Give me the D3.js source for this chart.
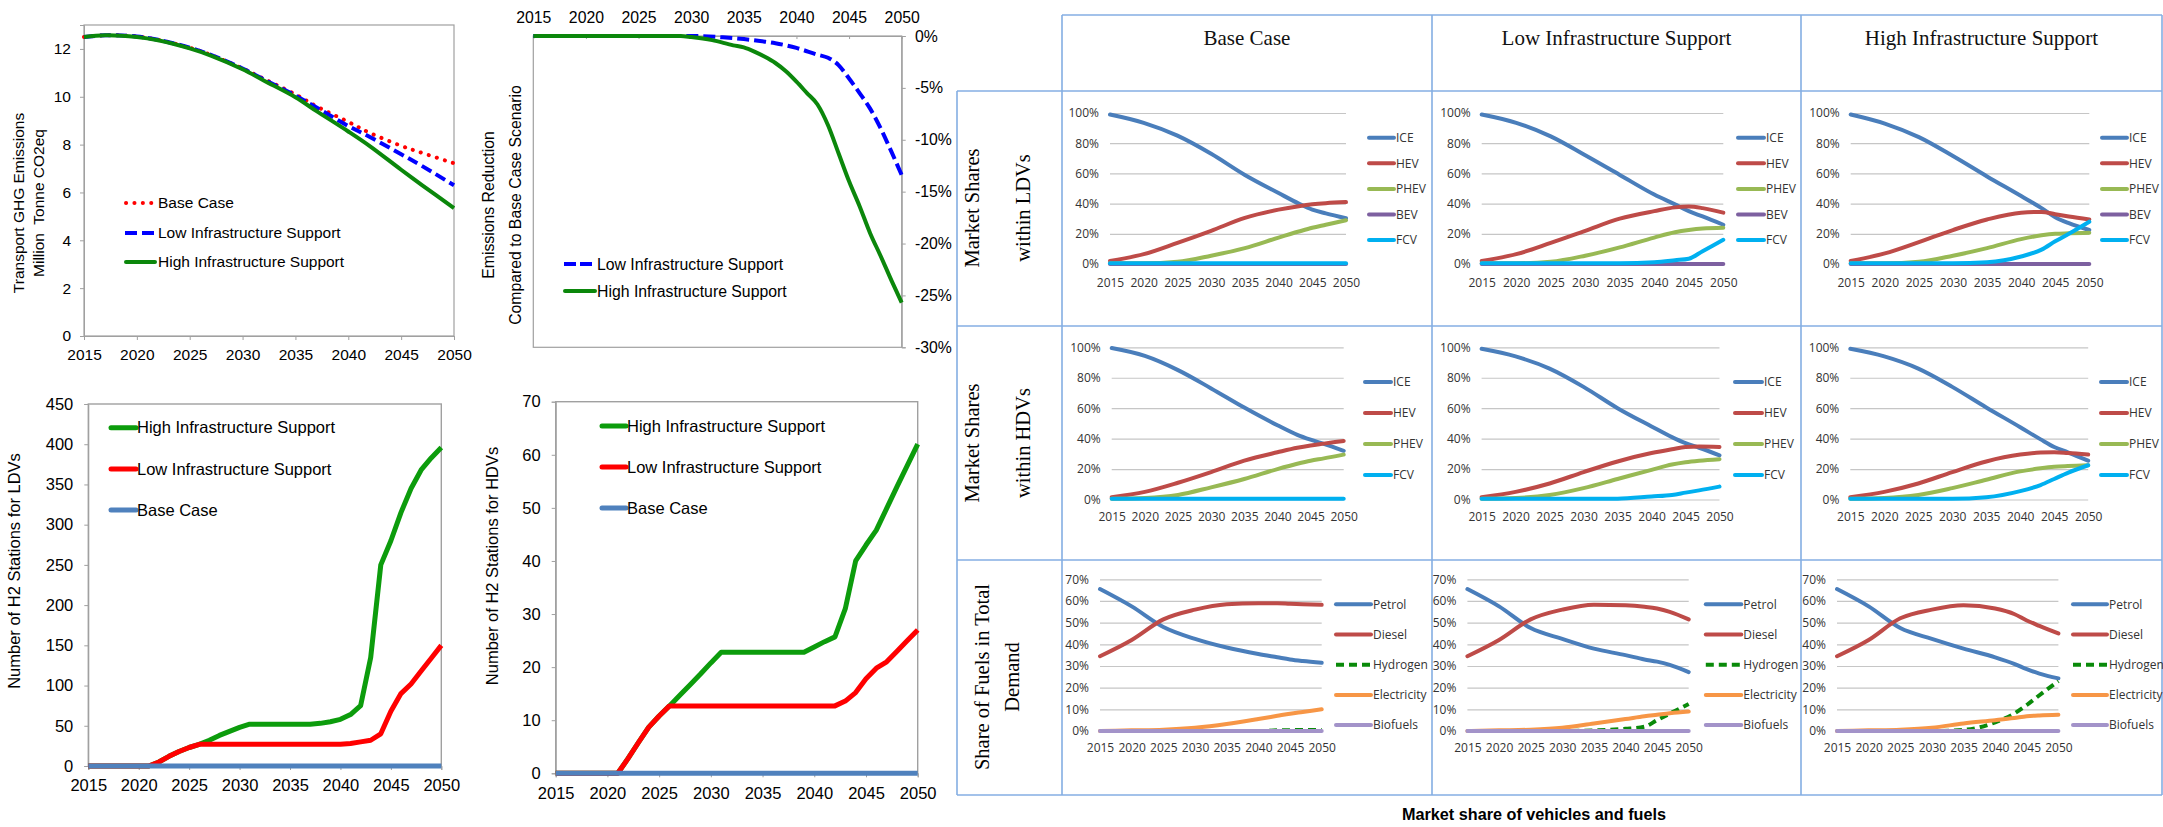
<!DOCTYPE html>
<html>
<head>
<meta charset="utf-8">
<script src="https://cdn.jsdelivr.net/npm/d3@7/dist/d3.min.js"></script>
<style>
  html, body { margin: 0; padding: 0; background: #fff; }
  svg { display: block; }
</style>
</head>
<body>
<svg id="fig" width="2163" height="827"></svg>
<script>
// ---------------- data ----------------
const yearTicks = [2015, 2020, 2025, 2030, 2035, 2040, 2045, 2050];

// Transport GHG emissions (million tonne CO2eq)
const ghgYears = [2015, 2017, 2020, 2022, 2025, 2027, 2030, 2032, 2035, 2037, 2040, 2042, 2045, 2047, 2050];
const ghgBase  = [12.5, 12.57, 12.52, 12.38, 12.05, 11.75, 11.18, 10.75, 10.1, 9.6, 8.95, 8.5, 7.95, 7.65, 7.22];
const ghgLow   = [12.5, 12.57, 12.52, 12.38, 12.05, 11.75, 11.18, 10.73, 10.05, 9.55, 8.78, 8.33, 7.6, 7.1, 6.3];
const ghgHigh  = [12.5, 12.57, 12.5, 12.36, 12.02, 11.72, 11.15, 10.68, 9.98, 9.4, 8.55, 7.95, 6.95, 6.3, 5.35];
const ghgTicks = [0, 2, 4, 6, 8, 10, 12];

// Emission reduction compared to base case (%)
const redLowYears  = [2015, 2030, 2033, 2035, 2037, 2038, 2040, 2042, 2043, 2044, 2045, 2046, 2047, 2048, 2049, 2050];
const redLow       = [0, 0, -0.13, -0.3, -0.55, -0.7, -1.15, -1.8, -2.1, -2.8, -4.1, -5.5, -7.0, -8.9, -11.1, -13.4];
const redHighYears = [2015, 2029, 2030, 2032, 2034, 2035, 2036, 2037, 2038, 2039, 2040, 2041, 2042, 2043, 2044, 2045, 2046, 2047, 2048, 2049, 2050];
const redHigh      = [0, 0, -0.1, -0.4, -0.9, -1.1, -1.5, -2.0, -2.6, -3.4, -4.4, -5.5, -6.6, -8.6, -11.3, -14.0, -16.4, -19.0, -21.2, -23.5, -25.7];
const redTicks = [0, -5, -10, -15, -20, -25, -30];

// Number of H2 stations
const stationYears = [2015, 2016, 2017, 2018, 2019, 2020, 2021, 2022, 2023, 2024, 2025, 2026, 2027, 2028,
  2029, 2030, 2031, 2032, 2033, 2034, 2035, 2036, 2037, 2038, 2039, 2040, 2041, 2042, 2043, 2044, 2045,
  2046, 2047, 2048, 2049, 2050];
const ldvStationsHigh = [0, 0, 0, 0, 0, 0, 0, 5, 12, 18, 23, 27, 32, 38, 43, 48, 52, 52, 52, 52, 52, 52, 52,
  53, 55, 58, 64, 75, 135, 250, 280, 315, 345, 368, 383, 396];
const ldvStationsLow  = [0, 0, 0, 0, 0, 0, 0, 5, 12, 18, 23, 27, 27, 27, 27, 27, 27, 27, 27, 27, 27, 27, 27,
  27, 27, 27, 28, 30, 32, 40, 68, 90, 102, 118, 134, 150];
const ldvStationsBase = [0, 0, 0, 0, 0, 0, 0, 0, 0, 0, 0, 0, 0, 0, 0, 0, 0, 0, 0, 0, 0, 0, 0, 0, 0, 0, 0, 0,
  0, 0, 0, 0, 0, 0, 0, 0];
const hdvStationsHigh = [0, 0, 0, 0, 0, 0, 0, 2.8, 5.8, 8.7, 10.8, 12.7, 14.7, 16.7, 18.7, 20.8, 22.8, 22.8,
  22.8, 22.8, 22.8, 22.8, 22.8, 22.8, 22.8, 23.8, 24.8, 25.7, 31, 40, 43, 45.8, 49.9, 54, 58, 62];
const hdvStationsLow  = [0, 0, 0, 0, 0, 0, 0, 2.8, 5.8, 8.7, 10.8, 12.7, 12.7, 12.7, 12.7, 12.7, 12.7, 12.7,
  12.7, 12.7, 12.7, 12.7, 12.7, 12.7, 12.7, 12.7, 12.7, 12.7, 13.6, 15.2, 17.8, 19.8, 21, 23, 25, 27];
const hdvStationsBase = [0, 0, 0, 0, 0, 0, 0, 0, 0, 0, 0, 0, 0, 0, 0, 0, 0, 0, 0, 0, 0, 0, 0, 0, 0, 0, 0, 0,
  0, 0, 0, 0, 0, 0, 0, 0];
const ldvStationTicks = [0, 50, 100, 150, 200, 250, 300, 350, 400, 450];
const hdvStationTicks = [0, 10, 20, 30, 40, 50, 60, 70];

// Market shares (%), sampled years
const shareYears = [2015, 2020, 2025, 2030, 2035, 2040, 2043, 2045, 2047, 2050];
const scenarios = ["Base Case", "Low Infrastructure Support", "High Infrastructure Support"];
const ldvSeries = ["ICE", "HEV", "PHEV", "BEV", "FCV"];
const hdvSeries = ["ICE", "HEV", "PHEV", "FCV"];
const fuelSeries = ["Petrol", "Diesel", "Hydrogen", "Electricity", "Biofuels"];

const ldvBaseICE  = [99, 93.5, 85, 73, 59, 47, 40, 36, 33.5, 30.3];
const ldvBaseHEV  = [2, 6.5, 14, 22, 30.5, 36, 38.3, 39.5, 40.3, 41];
const ldvBasePHEV = [0.5, 0.5, 1.5, 5.5, 10.5, 17.5, 21.5, 24, 26, 29];
const ldvBaseBEV  = [0, 0, 0, 0, 0, 0, 0, 0, 0, 0];
const ldvBaseFCV  = [0.5, 0.5, 0.5, 0.5, 0.5, 0.5, 0.5, 0.5, 0.5, 0.5];

const ldvLowICE  = [99, 93.5, 84.5, 72, 59, 46, 39.5, 35, 31.5, 26];
const ldvLowHEV  = [2, 6.5, 14, 22, 30, 35, 37.5, 38, 37, 34];
const ldvLowPHEV = [0.5, 0.5, 1.5, 5.5, 11, 17.5, 21, 22.5, 23.5, 24];
const ldvLowBEV  = [0, 0, 0, 0, 0, 0, 0, 0, 0, 0];
const ldvLowFCV  = [0.5, 0.5, 0.5, 0.5, 0.5, 1.2, 2.5, 3.5, 8.5, 16];

const ldvHighICE  = [99, 93, 84, 71.5, 58, 45, 37, 31, 27, 22.5];
const ldvHighHEV  = [2, 7, 14.5, 22.5, 29.5, 34, 34.5, 33, 31.5, 29.5];
const ldvHighPHEV = [0.5, 0.5, 1.5, 5.5, 10.5, 16.5, 19, 20, 20.3, 20.7];
const ldvHighBEV  = [0, 0, 0, 0, 0, 0, 0, 0, 0, 0];
const ldvHighFCV  = [0.5, 0.5, 0.5, 0.5, 1.2, 5, 9.5, 15, 20, 28];

const hdvBaseICE  = [99.5, 94.3, 85, 73, 60.4, 48.8, 42.5, 39.3, 36.5, 32];
const hdvBaseHEV  = [1.5, 5, 11, 18, 25.5, 31, 34, 35.5, 36.7, 38.5];
const hdvBasePHEV = [0.5, 1, 3, 8, 13.5, 20, 23.5, 25.5, 27, 29.5];
const hdvBaseFCV  = [0.5, 0.5, 0.5, 0.5, 0.5, 0.5, 0.5, 0.5, 0.5, 0.5];

const hdvLowICE  = [99, 94, 86, 74, 60, 48, 41, 37, 34, 29];
const hdvLowHEV  = [1.5, 5, 10.5, 18, 25, 30.5, 33, 34.5, 34.8, 34.5];
const hdvLowPHEV = [0.5, 1, 3, 7.5, 13.5, 19.5, 23, 24.5, 25.5, 26.5];
const hdvLowFCV  = [0.5, 0.5, 0.5, 0.5, 0.5, 2, 3, 4.5, 6, 8.5];

const hdvHighICE  = [99, 94, 86, 74, 60.5, 47.5, 39.5, 34.5, 31, 25.5];
const hdvHighHEV  = [1.5, 5, 10.5, 18, 25, 29.5, 30.8, 31, 30.5, 29.5];
const hdvHighPHEV = [0.5, 1, 3, 7.5, 13, 18.5, 20.5, 21.5, 22, 22.5];
const hdvHighFCV  = [0.5, 0.5, 0.5, 0.5, 1.5, 5.5, 9.5, 13.5, 17.5, 22.5];

const fuelBasePetrol      = [65.5, 57.5, 48, 42.5, 38.5, 35.5, 34, 33, 32.3, 31.5];
const fuelBaseDiesel      = [34.5, 42, 51.5, 56, 58.5, 59, 59, 58.7, 58.5, 58.2];
const fuelBaseHydrogen    = [0, 0, 0, 0, 0, 0, 0.3, 0.4, 0.5, 0.5];
const fuelBaseElectricity = [0, 0.3, 0.6, 1.5, 3.2, 5.5, 7, 8, 8.8, 10];
const fuelBaseBiofuels    = [0, 0, 0, 0, 0, 0, 0, 0, 0, 0];

const fuelLowPetrol      = [65.5, 57.5, 47.5, 42.5, 38, 35, 33, 32, 30.5, 27.2];
const fuelLowDiesel      = [34.5, 42, 51.5, 56, 58.3, 58, 57.3, 56.5, 55, 51.5];
const fuelLowHydrogen    = [0, 0, 0, 0, 0.3, 1, 2, 5, 8, 12.5];
const fuelLowElectricity = [0, 0.3, 0.6, 1.5, 3.5, 5.5, 6.8, 7.5, 8.2, 9];
const fuelLowBiofuels    = [0, 0, 0, 0, 0, 0, 0, 0, 0, 0];

const fuelHighPetrol      = [65.5, 57.5, 47.5, 42.5, 38, 34, 31, 28.5, 26.5, 24.3];
const fuelHighDiesel      = [34.5, 42, 52, 56, 58, 56.5, 54, 51, 48.5, 45];
const fuelHighHydrogen    = [0, 0, 0, 0, 0.5, 4, 8, 12, 16.5, 23];
const fuelHighElectricity = [0, 0.3, 0.6, 1.5, 3.5, 5, 6, 6.8, 7.2, 7.5];
const fuelHighBiofuels    = [0, 0, 0, 0, 0, 0, 0, 0, 0, 0];

const shareTicks = [0, 20, 40, 60, 80, 100];
const fuelTicks = [0, 10, 20, 30, 40, 50, 60, 70];

// ---------------- drawing ----------------
const svg = d3.select("#fig");
const SANS = "'Liberation Sans', Arial, sans-serif";
const SERIF = "'Liberation Serif', 'Times New Roman', serif";
const SMALL = "'Open Sans', 'Noto Sans', sans-serif";
const GRAY = "#a0a0a0";
const zip = (xs, ys) => xs.map((x, i) => [x, ys[i]]);

function styleAxis(g, size, family, lineColor) {
  g.attr("font-size", null).attr("font-family", null);
  g.select(".domain").attr("stroke", lineColor);
  g.selectAll(".tick line").attr("stroke", lineColor);
  g.selectAll(".tick text").attr("font-size", size).attr("font-family", family).attr("fill", "#000");
}

function legendEntry(x0, x1, y, text, color, opts) {
  const o = Object.assign({ width: 4, dash: null, cap: "round", size: 15.5, family: SANS, gap: 2 }, opts || {});
  svg.append("line").attr("x1", x0).attr("x2", x1).attr("y1", y).attr("y2", y)
    .attr("stroke", color).attr("stroke-width", o.width).attr("stroke-linecap", o.cap)
    .attr("stroke-dasharray", o.dash);
  svg.append("text").attr("x", x1 + o.gap).attr("y", y).attr("dy", "0.35em")
    .attr("font-size", o.size).attr("font-family", o.family).attr("fill", o.fill || "#000").text(text);
}

function rotLabel(x, y, text, size, family, weight) {
  svg.append("text").attr("transform", `translate(${x},${y}) rotate(-90)`)
    .attr("text-anchor", "middle").attr("dy", "0.35em")
    .attr("font-size", size).attr("font-family", family).attr("font-weight", weight || "normal")
    .attr("fill", "#000").style("white-space", "pre").text(text);
}

// ---- table grid behind the market share panels ----
const tableColor = "#84aee3";
const colEdges = [1062, 1432, 1801, 2162];
const rowEdges = [91, 326, 560, 795];
const tg = svg.append("g").attr("stroke", tableColor).attr("stroke-width", 1.6).attr("fill", "none");
tg.append("line").attr("x1", 1062).attr("x2", 2162).attr("y1", 15).attr("y2", 15);
rowEdges.forEach(yv => tg.append("line").attr("x1", 957).attr("x2", 2162).attr("y1", yv).attr("y2", yv));
colEdges.forEach(xv => tg.append("line").attr("x1", xv).attr("x2", xv).attr("y1", 15).attr("y2", 795));
tg.append("line").attr("x1", 957).attr("x2", 957).attr("y1", 91).attr("y2", 795);

scenarios.forEach((s, i) => {
  svg.append("text").attr("x", (colEdges[i] + colEdges[i + 1]) / 2).attr("y", 45)
    .attr("text-anchor", "middle").attr("font-size", 21).attr("font-family", SERIF)
    .attr("fill", "#111").text(s);
});
rotLabel(972, 208, "Market Shares", 20.5, SERIF);
rotLabel(1023, 208, "within LDVs", 20.5, SERIF);
rotLabel(972, 443, "Market Shares", 20.5, SERIF);
rotLabel(1023, 443, "within HDVs", 20.5, SERIF);
rotLabel(982, 677, "Share of Fuels in Total", 20.5, SERIF);
rotLabel(1012, 677, "Demand", 20.5, SERIF);

svg.append("text").attr("x", 1534).attr("y", 820).attr("text-anchor", "middle")
  .attr("font-size", 16).attr("font-weight", "bold").attr("font-family", SANS)
  .attr("textLength", 264).attr("lengthAdjust", "spacingAndGlyphs")
  .attr("fill", "#000").text("Market share of vehicles and fuels");

// ---- chart 1: transport GHG emissions ----
{
  const x = d3.scaleLinear().domain([2015, 2050]).range([84, 454]);
  const y = d3.scaleLinear().domain([0, 13]).range([336, 25]);
  svg.append("rect").attr("x", 84).attr("y", 25).attr("width", 370).attr("height", 311)
    .attr("fill", "none").attr("stroke", GRAY).attr("stroke-width", 1.2);
  svg.append("g").attr("transform", "translate(0,336)")
    .call(d3.axisBottom(x).tickValues(yearTicks).tickFormat(d3.format("d")).tickSize(4).tickPadding(8.5))
    .call(g => styleAxis(g, 15.5, SANS, GRAY));
  svg.append("g").attr("transform", "translate(84,0)")
    .call(d3.axisLeft(y).tickValues(ghgTicks).tickSize(4).tickPadding(9))
    .call(g => styleAxis(g, 15.5, SANS, GRAY));
  rotLabel(19, 203, "Transport GHG Emissions", 15.5, SANS);
  rotLabel(39, 203, "Million  Tonne CO2eq", 15.5, SANS);

  const line = d3.line().x(d => x(d[0])).y(d => y(d[1])).curve(d3.curveCatmullRom.alpha(0.5));
  svg.append("path").attr("d", line(zip(ghgYears, ghgBase))).attr("fill", "none")
    .attr("stroke", "#ff0000").attr("stroke-width", 4).attr("stroke-linecap", "round").attr("stroke-dasharray", "0.1,8.3");
  svg.append("path").attr("d", line(zip(ghgYears, ghgLow))).attr("fill", "none")
    .attr("stroke", "#0000ff").attr("stroke-width", 4).attr("stroke-dasharray", "11,5");
  svg.append("path").attr("d", line(zip(ghgYears, ghgHigh))).attr("fill", "none")
    .attr("stroke", "#0b870b").attr("stroke-width", 4);

  legendEntry(126, 154, 203, "Base Case", "#ff0000", { dash: "0.1,8.3", cap: "round", gap: 4 });
  legendEntry(125, 155, 233, "Low Infrastructure Support", "#0000ff", { dash: "12,5", cap: "butt", gap: 3 });
  legendEntry(126, 155, 262, "High Infrastructure Support", "#0b870b", { cap: "round", gap: 3 });
}

// ---- chart 2: emission reduction vs base case ----
{
  const x = d3.scaleLinear().domain([2015, 2050]).range([533.3, 901.7]);
  const y = d3.scaleLinear().domain([-30, 0]).range([347.3, 36]);
  svg.append("rect").attr("x", 533.3).attr("y", 36).attr("width", 368.4).attr("height", 311.3)
    .attr("fill", "none").attr("stroke", GRAY).attr("stroke-width", 1.2);
  svg.append("g").attr("transform", "translate(0,36)")
    .call(d3.axisTop(x).tickValues(yearTicks).tickFormat(d3.format("d")).tickSizeInner(-3).tickSizeOuter(0).tickPadding(13.4))
    .call(g => styleAxis(g, 15.8, SANS, GRAY));
  svg.append("g").attr("transform", "translate(901.7,0)")
    .call(d3.axisRight(y).tickValues(redTicks).tickFormat(d => d + "%").tickSize(4).tickPadding(9.3))
    .call(g => styleAxis(g, 15.8, SANS, GRAY));
  rotLabel(488, 205, "Emissions Reduction", 15.8, SANS);
  rotLabel(515, 205, "Compared to Base Case Scenario", 15.8, SANS);

  const line = d3.line().x(d => x(d[0])).y(d => y(d[1])).curve(d3.curveMonotoneX);
  svg.append("path").attr("d", line(zip(redLowYears, redLow))).attr("fill", "none")
    .attr("stroke", "#0000ff").attr("stroke-width", 4).attr("stroke-dasharray", "12,5");
  svg.append("path").attr("d", line(zip(redHighYears, redHigh))).attr("fill", "none")
    .attr("stroke", "#0b870b").attr("stroke-width", 4);

  legendEntry(564, 595, 264, "Low Infrastructure Support", "#0000ff", { dash: "12,4", cap: "butt", size: 15.8 });
  legendEntry(565, 595, 291, "High Infrastructure Support", "#0b870b", { size: 15.8 });
}

// ---- charts 3 and 4: number of H2 stations ----
function stationChart(c) {
  const x = d3.scaleLinear().domain([2015, 2050]).range([c.x0, c.x1]);
  const y = d3.scaleLinear().domain([0, c.max]).range([c.y0, c.y1]);
  svg.append("rect").attr("x", c.x0).attr("y", c.y1).attr("width", c.x1 - c.x0).attr("height", c.y0 - c.y1)
    .attr("fill", "none").attr("stroke", GRAY).attr("stroke-width", 1.4);
  svg.append("g").attr("transform", `translate(0,${c.y0})`)
    .call(d3.axisBottom(x).tickValues(yearTicks).tickFormat(d3.format("d")).tickSize(4).tickPadding(c.bpad))
    .call(g => styleAxis(g, 16.5, SANS, GRAY));
  svg.append("g").attr("transform", `translate(${c.x0},0)`)
    .call(d3.axisLeft(y).tickValues(c.ticks).tickSize(4).tickPadding(c.lpad))
    .call(g => styleAxis(g, 16.5, SANS, GRAY));
  rotLabel(c.tx, c.ty, c.title, 16.5, SANS);

  const line = d3.line().x(d => x(d[0])).y(d => y(d[1]));
  const defs = [
    { v: c.high, color: "#0c9c0c" },
    { v: c.low, color: "#ff0000" },
    { v: c.base, color: "#4f81bd" }
  ];
  defs.forEach(d => svg.append("path").attr("d", line(zip(stationYears, d.v))).attr("fill", "none")
    .attr("stroke", d.color).attr("stroke-width", 5).attr("stroke-linejoin", "round"));
  const names = ["High Infrastructure Support", "Low Infrastructure Support", "Base Case"];
  names.forEach((n, i) => legendEntry(c.lx0, c.lx1, c.ly[i], n, defs[i].color,
    { width: 5, size: 16.5, gap: 1 }));
}

stationChart({
  x0: 88.3, x1: 441.3, y0: 766, y1: 404, max: 450, ticks: ldvStationTicks,
  bpad: 9, lpad: 11, tx: 14, ty: 571, title: "Number of H2 Stations for LDVs",
  high: ldvStationsHigh, low: ldvStationsLow, base: ldvStationsBase,
  lx0: 111, lx1: 136, ly: [427.7, 469, 510]
});
stationChart({
  x0: 555.7, x1: 917.7, y0: 773.3, y1: 401.7, max: 70, ticks: hdvStationTicks,
  bpad: 10, lpad: 11, tx: 492, ty: 566, title: "Number of H2 Stations for HDVs",
  high: hdvStationsHigh, low: hdvStationsLow, base: hdvStationsBase,
  lx0: 602, lx1: 626, ly: [426, 467, 508]
});

// ---- market share panels ----
const seriesColor = {
  ICE: "#4a7ebb", HEV: "#be4b48", PHEV: "#98b954", BEV: "#7d60a0", FCV: "#00b0f0",
  Petrol: "#4a7ebb", Diesel: "#be4b48", Hydrogen: "#0a8a0a", Electricity: "#f79646", Biofuels: "#a393c9"
};
const seriesDash = { Hydrogen: "8,5" };

const panelRows = [
  { names: ldvSeries, yTop: 113, yBot: 264, max: 100, ticks: shareTicks, labelPad: 14,
    legY0: 137.7, legStep: 25.6,
    cols: [
      { x0: 1110, x1: 1346, lx: 1369, len: 25, data: [ldvBaseICE, ldvBaseHEV, ldvBasePHEV, ldvBaseBEV, ldvBaseFCV] },
      { x0: 1481.7, x1: 1723.3, lx: 1738, len: 26, data: [ldvLowICE, ldvLowHEV, ldvLowPHEV, ldvLowBEV, ldvLowFCV] },
      { x0: 1850.7, x1: 2089.3, lx: 2102, len: 25, data: [ldvHighICE, ldvHighHEV, ldvHighPHEV, ldvHighBEV, ldvHighFCV] }
    ] },
  { names: hdvSeries, yTop: 347.3, yBot: 499.5, max: 100, ticks: shareTicks, labelPad: 13,
    legY0: 382, legStep: 31,
    cols: [
      { x0: 1111.7, x1: 1343.7, lx: 1365, len: 26, data: [hdvBaseICE, hdvBaseHEV, hdvBasePHEV, hdvBaseFCV] },
      { x0: 1481.6, x1: 1719.5, lx: 1735, len: 27, data: [hdvLowICE, hdvLowHEV, hdvLowPHEV, hdvLowFCV] },
      { x0: 1850.3, x1: 2088.2, lx: 2101, len: 26, data: [hdvHighICE, hdvHighHEV, hdvHighPHEV, hdvHighFCV] }
    ] },
  { names: fuelSeries, yTop: 579.3, yBot: 731, max: 70, ticks: fuelTicks, labelPad: 12.4,
    legY0: 604.3, legStep: 30.2,
    cols: [
      { x0: 1100, x1: 1321.7, lx: 1336, len: 35, data: [fuelBasePetrol, fuelBaseDiesel, fuelBaseHydrogen, fuelBaseElectricity, fuelBaseBiofuels] },
      { x0: 1467.4, x1: 1688.7, lx: 1705.8, len: 35.5, data: [fuelLowPetrol, fuelLowDiesel, fuelLowHydrogen, fuelLowElectricity, fuelLowBiofuels] },
      { x0: 1837, x1: 2058.4, lx: 2073, len: 34, data: [fuelHighPetrol, fuelHighDiesel, fuelHighHydrogen, fuelHighElectricity, fuelHighBiofuels] }
    ] }
];

panelRows.forEach(row => {
  row.cols.forEach(col => {
    const x = d3.scaleLinear().domain([2015, 2050]).range([col.x0, col.x1]);
    const y = d3.scaleLinear().domain([0, row.max]).range([row.yBot, row.yTop]);
    svg.append("g").attr("transform", `translate(${col.x0},0)`)
      .call(d3.axisLeft(y).tickValues(row.ticks).tickSize(-(col.x1 - col.x0)).tickPadding(11).tickFormat(d => d + "%"))
      .call(g => {
        g.attr("font-size", null).attr("font-family", null);
        g.select(".domain").remove();
        g.selectAll(".tick line").attr("stroke", "#c6c6c6").attr("stroke-width", 1.2);
        g.selectAll(".tick text").attr("font-size", 12).attr("font-family", SMALL).attr("fill", "#333");
      });
    svg.append("g").attr("transform", `translate(0,${row.yBot})`)
      .call(d3.axisBottom(x).tickValues(yearTicks).tickFormat(d3.format("d")).tickSize(0).tickPadding(row.labelPad))
      .call(g => {
        g.attr("font-size", null).attr("font-family", null);
        g.select(".domain").remove();
        g.selectAll(".tick text").attr("font-size", 12).attr("font-family", SMALL).attr("fill", "#333");
      });
    const line = d3.line().x(d => x(d[0])).y(d => y(d[1])).curve(d3.curveMonotoneX);
    row.names.forEach((name, i) => {
      svg.append("path").attr("d", line(zip(shareYears, col.data[i]))).attr("fill", "none")
        .attr("stroke", seriesColor[name]).attr("stroke-width", 4)
        .attr("stroke-linecap", seriesDash[name] ? "butt" : "round")
        .attr("stroke-dasharray", seriesDash[name] || null);
      legendEntry(col.lx, col.lx + col.len, row.legY0 + i * row.legStep, name, seriesColor[name], {
        width: 4, dash: seriesDash[name] || null, cap: seriesDash[name] ? "butt" : "round",
        size: 12, family: SMALL, gap: 2, fill: "#333"
      });
    });
  });
});
</script>
</body>
</html>
